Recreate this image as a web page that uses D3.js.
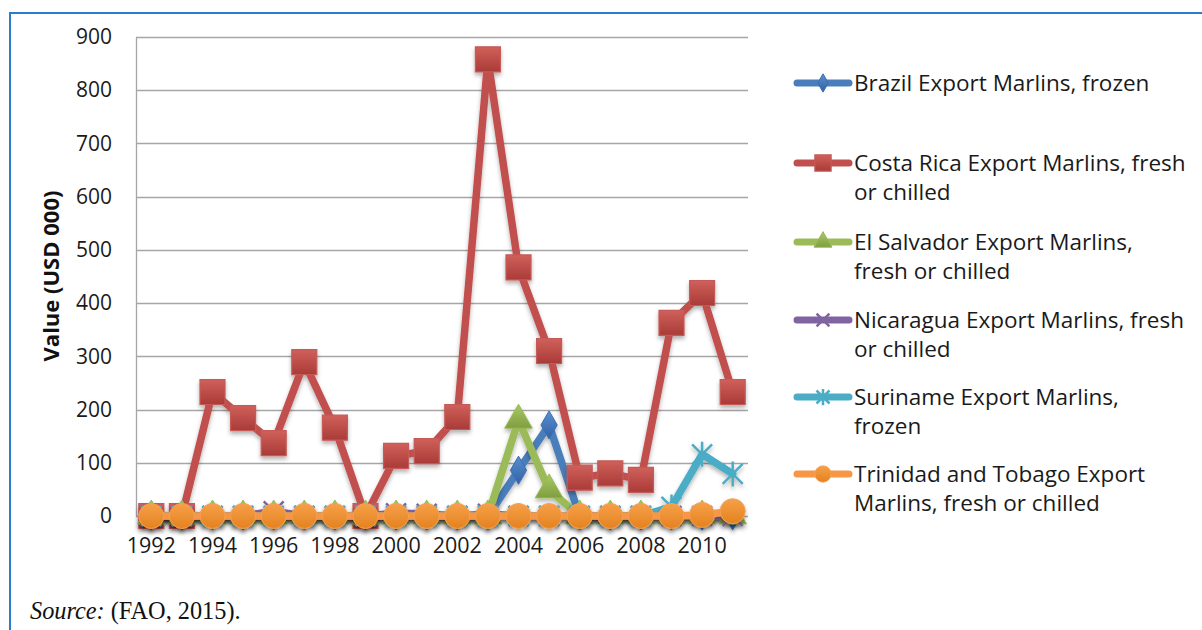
<!DOCTYPE html>
<html>
<head>
<meta charset="utf-8">
<script src="https://cdn.jsdelivr.net/npm/d3@7"></script>
<style>
  html, body { margin: 0; padding: 0; background: #fff; }
  svg { display: block; }
</style>
</head>
<body>
<svg id="chart" width="1202" height="630"></svg>
<script>
// Marlin export values (USD 000), 1992-2011
const years = [1992,1993,1994,1995,1996,1997,1998,1999,2000,2001,2002,2003,2004,2005,2006,2007,2008,2009,2010,2011];
const brazil     = [0,0,0,0,0,0,0,0,0,0,0,0,86,171,0,0,0,0,0,0];
const costaRica  = [0,0,233,184,137,289,166,0,113,122,186,858,467,310,72,80,68,363,419,233];
const elSalvador = [0,0,0,0,0,0,0,0,0,0,0,0,180,49,0,0,0,0,0,0];
const nicaragua  = [0,0,0,0,9,0,0,0,5,4,0,4,0,0,0,0,0,0,0,0];
const suriname   = [0,0,0,0,0,0,0,0,0,0,0,0,0,0,0,0,0,17,116,79];
const trinidad   = [0,0,0,0,0,0,0,0,0,0,0,0,0,0,0,0,0,0,2,9];
const yTicks = [0,100,200,300,400,500,600,700,800,900];
const xTickLabels = years.filter((y, i) => i % 2 === 0);

const seriesNames = [
  ["Brazil Export Marlins, frozen"],
  ["Costa Rica Export Marlins, fresh", "or chilled"],
  ["El Salvador Export Marlins,", "fresh or chilled"],
  ["Nicaragua Export Marlins, fresh", "or chilled"],
  ["Suriname Export Marlins,", "frozen"],
  ["Trinidad and Tobago Export", "Marlins, fresh or chilled"]
];

const series = [
  { values: brazil,     line: "#4a7ebb", fill: ["#5a8fd0", "#2f62a6"], marker: "diamond" },
  { values: costaRica,  line: "#c0504d", fill: ["#d0605b", "#a93b37"], marker: "square" },
  { values: elSalvador, line: "#9bbb59", fill: ["#a9c866", "#7f9e3f"], marker: "triangle" },
  { values: nicaragua,  line: "#8064a2", fill: ["#8064a2", "#8064a2"], marker: "x" },
  { values: suriname,   line: "#4bacc6", fill: ["#4bacc6", "#4bacc6"], marker: "asterisk" },
  { values: trinidad,   line: "#f79646", fill: ["#f6a04a", "#e4821f"], marker: "circle" }
];

const svg = d3.select("#chart");
const defs = svg.append("defs");

const shadow = defs.append("filter").attr("id", "shadow")
  .attr("x", "-30%").attr("y", "-30%").attr("width", "160%").attr("height", "160%");
shadow.append("feDropShadow").attr("dx", 0).attr("dy", 3).attr("stdDeviation", 2)
  .attr("flood-color", "#000").attr("flood-opacity", 0.3);

series.forEach((s, i) => {
  const g = defs.append("linearGradient").attr("id", "grad" + i)
    .attr("x1", 0).attr("y1", 0).attr("x2", 0).attr("y2", 1);
  g.append("stop").attr("offset", "0%").attr("stop-color", s.fill[0]);
  g.append("stop").attr("offset", "100%").attr("stop-color", s.fill[1]);
});

// Outer frame: top and left rules
svg.append("line").attr("x1", 9).attr("x2", 1202).attr("y1", 13).attr("y2", 13)
  .attr("stroke", "#2a7ccc").attr("stroke-width", 2);
svg.append("line").attr("x1", 10).attr("x2", 10).attr("y1", 12).attr("y2", 630)
  .attr("stroke", "#2a7ccc").attr("stroke-width", 2);

const plot = { left: 136, right: 748, top: 37, bottom: 516 };

const x = d3.scaleBand().domain(years).range([plot.left, plot.right]).padding(0);
const y = d3.scaleLinear().domain([0, 900]).range([plot.bottom, plot.top]);
const cx = d => x(d) + x.bandwidth() / 2;

// Gridlines
svg.append("g").selectAll("line").data(yTicks).join("line")
  .attr("x1", plot.left).attr("x2", plot.right)
  .attr("y1", d => Math.round(y(d)) + 0.5).attr("y2", d => Math.round(y(d)) + 0.5)
  .attr("stroke", "#a6a6a6").attr("stroke-width", 1.3);

// Value axis
const yAxis = svg.append("g").attr("transform", `translate(${plot.left},0)`)
  .call(d3.axisLeft(y).tickValues(yTicks).tickSize(0).tickPadding(24));
yAxis.select(".domain").attr("stroke", "#a6a6a6").attr("stroke-width", 1.3);
yAxis.selectAll("text").attr("font-family", "Open Sans, sans-serif")
  .attr("font-size", 21).attr("fill", "#1a1a1a");

// Category axis
const xAxis = svg.append("g").attr("transform", `translate(0,${plot.bottom})`)
  .call(d3.axisBottom(x).tickValues(xTickLabels).tickSize(0).tickPadding(22));
xAxis.select(".domain").remove();
xAxis.selectAll("text").attr("font-family", "Open Sans, sans-serif")
  .attr("font-size", 21.5).attr("fill", "#1a1a1a");

// Axis title
svg.append("text")
  .attr("transform", `translate(59,276) rotate(-90)`)
  .attr("text-anchor", "middle")
  .attr("font-family", "Open Sans, sans-serif").attr("font-weight", "bold")
  .attr("font-size", 22).attr("fill", "#111")
  .text("Value (USD 000)");

// Marker drawing
const asteriskPath = r => `M${-r},${-r}L${r},${r}M${-r},${r}L${r},${-r}M0,${-r * 1.25}L0,${r * 1.25}`;
function drawMarker(sel, s, i, scale) {
  const k = scale || 1;
  switch (s.marker) {
    case "diamond":
      sel.append("path").attr("d", d3.symbol(d3.symbolDiamond, 230 * k * k)())
        .attr("fill", `url(#grad${i})`).attr("stroke", "#3a6fb0").attr("stroke-width", 1);
      break;
    case "square":
      sel.append("path").attr("d", d3.symbol(d3.symbolSquare, 625 * k * k)())
        .attr("fill", `url(#grad${i})`).attr("stroke", "#c55a57").attr("stroke-width", 1.2);
      break;
    case "triangle":
      sel.append("path").attr("d", d3.symbol(d3.symbolTriangle, 330 * k * k)())
        .attr("fill", `url(#grad${i})`).attr("stroke", "#98b954").attr("stroke-width", 1);
      break;
    case "x":
      sel.append("path").attr("d", d3.symbol(d3.symbolX, 260 * k * k)())
        .attr("fill", "none").attr("stroke", s.line).attr("stroke-width", 2.5);
      break;
    case "asterisk":
      sel.append("path").attr("d", asteriskPath(10 * k))
        .attr("fill", "none").attr("stroke", s.line).attr("stroke-width", 2.5);
      break;
    case "circle":
      sel.append("circle").attr("r", 12.5 * k)
        .attr("fill", `url(#grad${i})`).attr("stroke", "#f5a050").attr("stroke-width", 1);
      break;
  }
}

const line = d3.line().x((d, j) => cx(years[j])).y(d => y(d));

series.forEach((s, i) => {
  const g = svg.append("g").attr("filter", "url(#shadow)");
  g.append("path").datum(s.values)
    .attr("d", line)
    .attr("fill", "none").attr("stroke", s.line)
    .attr("stroke-width", 7.5).attr("stroke-linejoin", "round").attr("stroke-linecap", "round");
  g.selectAll("g.m").data(s.values).join("g").attr("class", "m")
    .attr("transform", (d, j) => `translate(${cx(years[j])},${y(d)})`)
    .each(function () { drawMarker(d3.select(this), s, i, 1); });
});

// Legend
const legendY = [83, 163, 242, 320, 397, 474];
const legend = svg.append("g");
series.forEach((s, i) => {
  const g = legend.append("g").attr("transform", `translate(0,${legendY[i]})`);
  g.append("line").attr("x1", 797).attr("x2", 849).attr("y1", 0).attr("y2", 0)
    .attr("stroke", s.line).attr("stroke-width", 7).attr("stroke-linecap", "round");
  const m = g.append("g").attr("transform", "translate(823,0)");
  drawMarker(m, s, i, 0.65);
  const t = g.append("text").attr("x", 854).attr("y", 8)
    .attr("font-family", "Open Sans, sans-serif").attr("font-size", 22.5).attr("fill", "#1a1a1a");
  seriesNames[i].forEach((ln, k) => {
    t.append("tspan").attr("x", 854).attr("dy", k === 0 ? 0 : 29).text(ln);
  });
});

// Source note
const src = svg.append("text").attr("x", 30).attr("y", 619)
  .attr("font-family", "Liberation Serif, Times New Roman, serif").attr("font-size", 24.3).attr("fill", "#111");
src.append("tspan").attr("font-style", "italic").text("Source:");
src.append("tspan").text(" (FAO, 2015).");
</script>
</body>
</html>
